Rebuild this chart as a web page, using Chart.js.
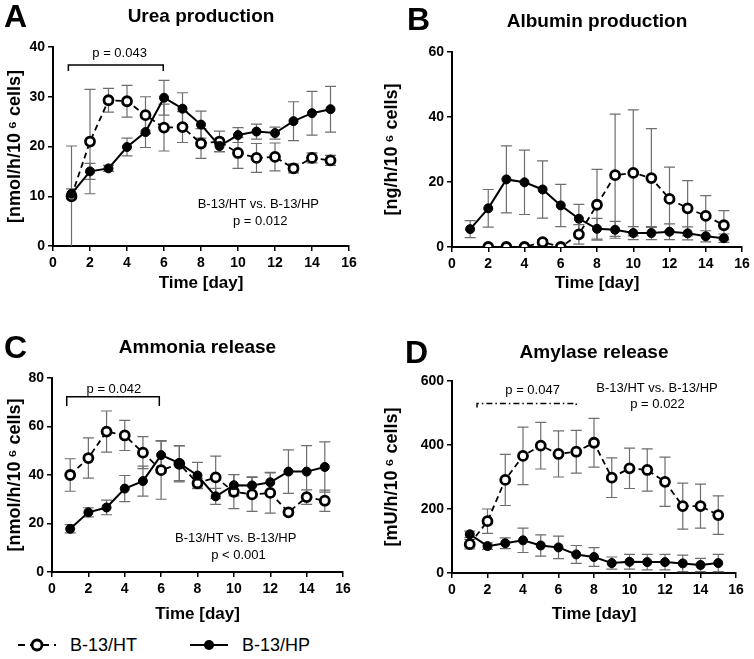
<!DOCTYPE html>
<html>
<head>
<meta charset="utf-8">
<script src="https://cdn.jsdelivr.net/npm/chart.js@4.4.1/dist/chart.umd.min.js"></script>
<style>
  body { margin: 0; background: #fff; width: 754px; height: 659px; position: relative; overflow: hidden;
         font-family: "Liberation Sans", Arial, sans-serif; }
  .panel { position: absolute; }
  .legend-item { position: absolute; top: 634px; height: 22px; display: flex; align-items: center;
                 font-size: 18px; color: #000; }
  .legend-item svg { margin-right: 14px; }
</style>
</head>
<body>
<div class="panel" style="left:0;top:0"><canvas id="chartUrea" width="377" height="300"></canvas></div>
<div class="panel" style="left:377px;top:0"><canvas id="chartAlbumin" width="377" height="300"></canvas></div>
<div class="panel" style="left:0;top:300px"><canvas id="chartAmmonia" width="377" height="330"></canvas></div>
<div class="panel" style="left:377px;top:300px"><canvas id="chartAmylase" width="377" height="330"></canvas></div>

<div class="legend-item" style="left:18px">
  <svg width="38" height="20"><line x1="0" y1="10" x2="38" y2="10" stroke="#000" stroke-width="2" stroke-dasharray="7,5"/>
    <circle cx="19" cy="10" r="5" fill="#fff" stroke="#000" stroke-width="2.8"/></svg>
  <span>B-13/HT</span>
</div>
<div class="legend-item" style="left:190px">
  <svg width="38" height="20"><line x1="0" y1="10" x2="38" y2="10" stroke="#000" stroke-width="2"/>
    <circle cx="19" cy="10" r="5" fill="#000"/></svg>
  <span>B-13/HP</span>
</div>

<script>
// Tage (x-Achse)
const days = [1, 2, 3, 4, 5, 6, 7, 8, 9, 10, 11, 12, 13, 14, 15];

// A: Urea
const ureaHT   = [10.0, 21.0, 29.3, 29.1, 26.3, 23.8, 23.9, 20.6, 21.0, 18.7, 17.7, 17.9, 15.6, 17.7, 17.2];
const ureaHTsd = [10.1, 10.5, 2.4, 3.2, 3.7, 4.7, 3.1, 3.0, 2.1, 3.1, 2.9, 2.8, 0.9, 1.0, 1.0];
const ureaHP   = [10.5, 15.0, 15.6, 19.9, 22.9, 29.8, 27.6, 24.4, 20.1, 22.3, 23.0, 22.7, 25.1, 26.7, 27.5];
const ureaHPsd = [1.0, 1.6, 0.6, 1.8, 3.1, 3.5, 3.2, 2.7, 1.1, 1.5, 1.5, 1.2, 3.9, 4.4, 4.6];

// B: Albumin
const albuminHT   = [null, 0, 0, 0, 1.5, 0, 3.9, 13.0, 22.1, 22.8, 21.2, 14.8, 11.9, 9.6, 6.7];
const albuminHTsd = [null, 0, 0, 0, 0.8, 0, 3.0, 10.9, 18.8, 19.4, 15.2, 9.8, 8.5, 6.2, 4.5];
const albuminHP   = [5.5, 11.9, 20.8, 19.9, 17.7, 12.8, 8.7, 5.6, 5.3, 4.3, 4.3, 4.7, 4.2, 3.3, 2.7];
const albuminHPsd = [2.6, 5.8, 10.3, 9.9, 8.8, 6.5, 4.4, 3.2, 2.6, 2.0, 2.0, 2.4, 2.0, 1.7, 1.3];

// C: Ammonia
const ammoniaHT   = [40.0, 47.0, 57.9, 56.3, 49.2, 42.0, 44.6, 36.6, 39.0, 33.1, 32.0, 32.6, 24.6, 30.9, 29.4];
const ammoniaHTsd = [6.7, 8.3, 8.5, 6.2, 6.6, 12.0, 7.4, 2.0, 8.8, 7.0, 7.0, 8.3, 1.0, 3.0, 4.4];
const ammoniaHP   = [17.8, 24.6, 26.6, 34.4, 37.5, 48.2, 44.9, 39.8, 31.2, 35.8, 35.7, 37.0, 41.4, 41.4, 43.3];
const ammoniaHPsd = [1.7, 1.9, 3.0, 5.4, 6.2, 6.0, 7.2, 5.4, 3.3, 4.4, 3.5, 4.1, 9.0, 10.7, 10.4];

// D: Amylase
const amylaseHT   = [90, 162, 291, 366, 398, 372, 379, 407, 298, 327, 322, 285, 209, 209, 181];
const amylaseHTsd = [15, 38, 80, 90, 73, 72, 67, 76, 62, 63, 66, 77, 72, 69, 60];
const amylaseHP   = [121, 84, 93, 102, 86, 80, 58, 50, 31, 35, 34, 34, 30, 25, 31];
const amylaseHPsd = [10, 10, 17, 38, 33, 35, 28, 29, 19, 23, 24, 24, 26, 21, 27];

Chart.defaults.font.family = '"Liberation Sans", Arial, sans-serif';
Chart.defaults.color = '#000';

const toPoints = (vals) => days.map((d, i) => ({ x: d, y: vals[i] }));

// Fehlerbalken (SD) unter die Punkte zeichnen
const errorBars = {
    id: 'errorBars',
    beforeDatasetsDraw(chart) {
        const ctx = chart.ctx;
        const xs = chart.scales.x, ys = chart.scales.y;
        ctx.save();
        ctx.strokeStyle = '#6e6e6e';
        ctx.lineWidth = 1.2;
        chart.data.datasets.forEach(ds => {
            if (!ds.errors) return;
            ds.data.forEach((p, i) => {
                const e = ds.errors[i];
                if (p.y == null || !e) return;
                const px = xs.getPixelForValue(p.x);
                const yTop = ys.getPixelForValue(p.y + e);
                const yBot = ys.getPixelForValue(Math.max(0, p.y - e));
                ctx.beginPath();
                ctx.moveTo(px, yTop); ctx.lineTo(px, yBot);
                ctx.moveTo(px - 5.5, yTop); ctx.lineTo(px + 5.5, yTop);
                if (p.y - e > 0) { ctx.moveTo(px - 5.5, yBot); ctx.lineTo(px + 5.5, yBot); }
                ctx.stroke();
            });
        });
        ctx.restore();
    }
};

// Panel-Buchstabe, Titel, p-Werte, Klammern
const panelDeco = {
    id: 'panelDeco',
    afterDraw(chart, args, opts) {
        const ctx = chart.ctx;
        const xs = chart.scales.x, ys = chart.scales.y;
        const area = chart.chartArea;
        ctx.save();
        ctx.fillStyle = '#000';
        ctx.textBaseline = 'alphabetic';
        ctx.textAlign = 'left';
        ctx.font = 'bold 32px "Liberation Sans", Arial, sans-serif';
        ctx.fillText(opts.letter, opts.letterX, opts.letterY);
        ctx.textAlign = 'center';
        ctx.font = 'bold 19px "Liberation Sans", Arial, sans-serif';
        ctx.fillText(opts.title, (area.left + area.right) / 2, opts.titleY);

        ctx.font = '13px "Liberation Sans", Arial, sans-serif';
        ctx.textBaseline = 'middle';
        (opts.texts || []).forEach(t => {
            ctx.fillText(t.text, xs.getPixelForValue(t.x), ys.getPixelForValue(t.y));
        });

        const b = opts.bracket;
        if (b) {
            const x1 = xs.getPixelForValue(b.x1), x2 = xs.getPixelForValue(b.x2);
            const yt = ys.getPixelForValue(b.y), ye = ys.getPixelForValue(b.yEnd);
            ctx.strokeStyle = '#000';
            ctx.lineWidth = 1.5;
            ctx.setLineDash(b.dash || []);
            ctx.beginPath();
            ctx.moveTo(x1, ye); ctx.lineTo(x1, yt); ctx.lineTo(x2, yt); ctx.lineTo(x2, ye);
            ctx.stroke();
        }
        ctx.restore();
    }
};

function makeChart(id, cfg) {
    const axisFont = { size: 14, weight: 'bold' };
    new Chart(document.getElementById(id), {
        type: 'line',
        data: {
            datasets: [
                {
                    label: 'B-13/HP',
                    data: toPoints(cfg.hp),
                    errors: cfg.hpSd,
                    borderColor: '#000',
                    borderWidth: 2,
                    pointRadius: 4.5,
                    pointBackgroundColor: '#000',
                    pointBorderColor: '#000',
                    pointBorderWidth: 1,
                    tension: 0,
                    spanGaps: false
                },
                {
                    label: 'B-13/HT',
                    data: toPoints(cfg.ht),
                    errors: cfg.htSd,
                    borderColor: '#000',
                    borderWidth: 1.8,
                    borderDash: [6, 4],
                    pointRadius: 4.5,
                    pointBackgroundColor: '#fff',
                    pointBorderColor: '#000',
                    pointBorderWidth: 2.8,
                    tension: 0,
                    spanGaps: false
                }
            ]
        },
        options: {
            responsive: false,
            animation: false,
            layout: { padding: cfg.padding },
            plugins: {
                legend: { display: false },
                tooltip: { enabled: false },
                panelDeco: cfg.deco
            },
            scales: {
                x: {
                    type: 'linear',
                    min: 0, max: 16,
                    ticks: { stepSize: 2, font: axisFont, color: '#000', padding: 4 },
                    grid: { drawOnChartArea: false, tickLength: 5, color: '#000', lineWidth: 1.5 },
                    border: { color: '#000', width: 2 },
                    title: { display: true, text: 'Time [day]', font: { size: 17, weight: 'bold' }, color: '#000',
                             padding: { top: 0, bottom: cfg.xTitlePad } },
                    afterFit: s => { s.height = cfg.xHeight; }
                },
                y: {
                    min: 0, max: cfg.yMax,
                    ticks: { stepSize: cfg.yStep, font: axisFont, color: '#000', padding: 3 },
                    grid: { drawOnChartArea: false, tickLength: 5, color: '#000', lineWidth: 1.5 },
                    border: { color: '#000', width: 2 },
                    title: { display: true, text: cfg.yTitle, font: { size: 18, weight: 'bold' }, color: '#000',
                             padding: { top: 4, bottom: 0 } },
                    afterFit: s => { s.width = cfg.yWidth; }
                }
            }
        },
        plugins: [errorBars, panelDeco]
    });
}

makeChart('chartUrea', {
    ht: ureaHT, htSd: ureaHTsd, hp: ureaHP, hpSd: ureaHPsd,
    yMax: 40, yStep: 10, yTitle: '[nmol/h/10\u2009\u2076 cells]',
    yWidth: 53, xHeight: 54, xTitlePad: 6,
    padding: { top: 47, right: 28, left: 0, bottom: 0 },
    deco: {
        letter: 'A', letterX: 4, letterY: 27, title: 'Urea production', titleY: 22,
        texts: [
            { text: 'p = 0.043', x: 3.6, y: 38.7 },
            { text: 'B-13/HT vs. B-13/HP', x: 11.1, y: 8.4 },
            { text: 'p = 0.012', x: 11.2, y: 4.9 }
        ],
        bracket: { x1: 0.83, x2: 5.96, y: 36.4, yEnd: 35.2 }
    }
});

makeChart('chartAlbumin', {
    ht: albuminHT, htSd: albuminHTsd, hp: albuminHP, hpSd: albuminHPsd,
    yMax: 60, yStep: 20, yTitle: '[ng/h/10\u2009\u2076 cells]',
    yWidth: 75, xHeight: 53, xTitlePad: 6,
    padding: { top: 52, right: 12, left: 0, bottom: 0 },
    deco: { letter: 'B', letterX: 30, letterY: 30, title: 'Albumin production', titleY: 27 }
});

makeChart('chartAmmonia', {
    ht: ammoniaHT, htSd: ammoniaHTsd, hp: ammoniaHP, hpSd: ammoniaHPsd,
    yMax: 80, yStep: 20, yTitle: '[nmol/h/10\u2009\u2076 cells]',
    yWidth: 52, xHeight: 58, xTitlePad: 5,
    padding: { top: 78, right: 34, left: 0, bottom: 0 },
    deco: {
        letter: 'C', letterX: 4, letterY: 58, title: 'Ammonia release', titleY: 53,
        texts: [
            { text: 'p = 0.042', x: 3.4, y: 75.3 },
            { text: 'B-13/HT vs. B-13/HP', x: 10.1, y: 13.9 },
            { text: 'p < 0.001', x: 10.25, y: 7.0 }
        ],
        bracket: { x1: 0.81, x2: 5.9, y: 72.3, yEnd: 68.5 }
    }
});

makeChart('chartAmylase', {
    ht: amylaseHT, htSd: amylaseHTsd, hp: amylaseHP, hpSd: amylaseHPsd,
    yMax: 600, yStep: 200, yTitle: '[mU/h/10\u2009\u2076 cells]',
    yWidth: 75, xHeight: 57, xTitlePad: 5,
    padding: { top: 81, right: 18, left: 0, bottom: 0 },
    deco: {
        letter: 'D', letterX: 28, letterY: 63, title: 'Amylase release', titleY: 58,
        texts: [
            { text: 'p = 0.047', x: 4.54, y: 570 },
            { text: 'B-13/HT vs. B-13/HP', x: 11.55, y: 577 },
            { text: 'p = 0.022', x: 11.58, y: 527 }
        ],
        bracket: { x1: 1.41, x2: 7.0, y: 530, yEnd: 517, dash: [6, 3, 1.5, 3] }
    }
});
</script>
</body>
</html>
